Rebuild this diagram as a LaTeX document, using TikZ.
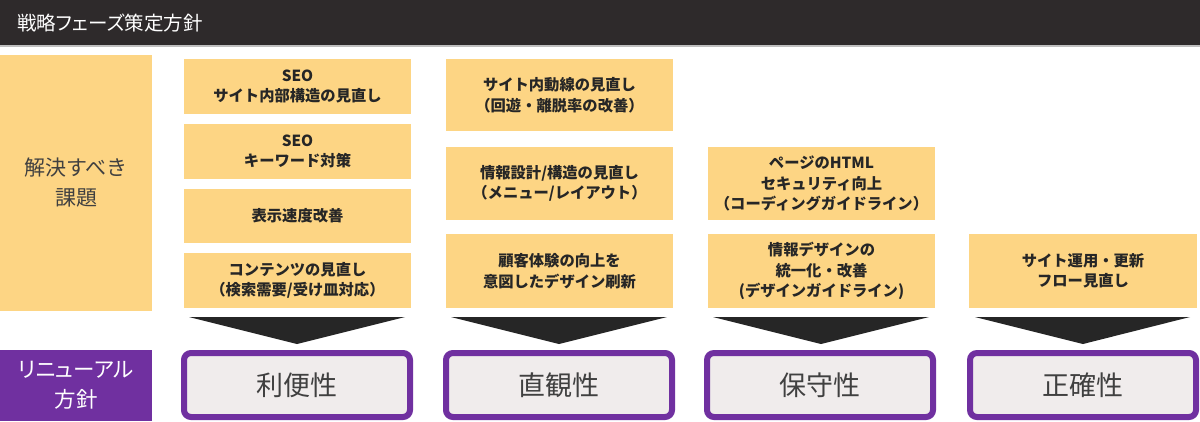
\documentclass[tikz,border=0pt]{standalone}
\usepackage{fontspec}
\setmainfont{Noto Sans CJK JP}
\newfontfamily\paltfont[RawFeature=+palt]{Noto Sans CJK JP}
\definecolor{hdr}{HTML}{2E2A2B}
\definecolor{yel}{HTML}{FDD584}
\definecolor{purp}{HTML}{7030A0}
\definecolor{lgray}{HTML}{F0ECEC}
\definecolor{txt}{HTML}{262626}
\definecolor{txtb}{HTML}{404040}
\definecolor{arr}{HTML}{262626}
\begin{document}
\begin{tikzpicture}[x=1pt,y=-1pt,
  ybox/.style={fill=yel, draw=none, inner sep=0pt, outer sep=0pt, align=center, anchor=north west,
    font=\bfseries\fontsize{15.3}{20.5}\selectfont, text=txt},
  pbox/.style={draw=purp, line width=6pt, fill=lgray, rounded corners=7pt, inner sep=0pt, outer sep=0pt,
    minimum width=226pt, minimum height=64pt, anchor=north west,
    font=\fontsize{27}{30}\selectfont, text=txtb},
  arrowshape/.style={fill=arr, draw=none}]
\useasboundingbox (0,0) rectangle (1200,421);
\fill[white] (0,0) rectangle (1200,421);
% header
\node[fill=hdr, draw=none, inner sep=0pt, outer sep=0pt, minimum width=1200pt, minimum height=45pt, anchor=north west] (hdr) at (0,0) {};
\draw[black!25, line width=1.2pt] (0,46) -- (1200,46);
\node[anchor=west, text=white, inner sep=0pt, font=\paltfont\fontsize{19.5}{22}\selectfont] (hdrt) at (17,23.5) {戦略フェーズ策定方針};
% left labels
\node[fill=yel, inner sep=0pt, outer sep=0pt, minimum width=152pt, minimum height=256pt, anchor=north west, align=center,
  text=txtb, font=\fontsize{21}{30}\selectfont] (kadai) at (0,55) {解決すべき\\課題};
\node[fill=purp, inner sep=0pt, outer sep=0pt, minimum width=152pt, minimum height=71pt, anchor=north west, align=center,
  text=white, font=\paltfont\fontsize{21.5}{30}\selectfont] (hoshin) at (0,350) {リニューアル\\方針};
% column 1
\node[ybox, minimum width=227pt, minimum height=55pt] (a1) at (184,59) {SEO\\サイト内部構造の見直し};
\node[ybox, minimum width=227pt, minimum height=55pt] (a2) at (184,124) {SEO\\キーワード対策};
\node[ybox, minimum width=227pt, minimum height=54pt] (a3) at (184,189) {表示速度改善};
\node[ybox, minimum width=227pt, minimum height=55pt] (a4) at (184,253) {コンテンツの見直し\\（検索需要/受け皿対応）};
% column 2
\node[ybox, minimum width=227pt, minimum height=72pt] (b1) at (446,59) {サイト内動線の見直し\\（回遊・離脱率の改善）};
\node[ybox, minimum width=227pt, minimum height=73pt] (b2) at (446,147) {情報設計/構造の見直し\\（メニュー/レイアウト）};
\node[ybox, minimum width=227pt, minimum height=74pt] (b3) at (446,234) {顧客体験の向上を\\意図したデザイン刷新};
% column 3
\node[ybox, minimum width=227pt, minimum height=73pt] (c1) at (708,147) {ページのHTML\\セキュリティ向上\\（コーディングガイドライン）};
\node[ybox, minimum width=227pt, minimum height=74pt] (c2) at (708,234) {情報デザインの\\統一化・改善\\(デザインガイドライン)};
% column 4
\node[ybox, minimum width=228pt, minimum height=74pt] (d1) at (969,234) {サイト運用・更新\\フロー見直し};
% arrows
\fill[arrowshape] (189,317) -- (405,317) -- (297,344) -- cycle;
\fill[arrowshape] (451,317) -- (667,317) -- (559,344) -- cycle;
\fill[arrowshape] (713,317) -- (929,317) -- (821,344) -- cycle;
\fill[arrowshape] (975,317) -- (1190,317) -- (1083,344) -- cycle;
% policy boxes
\node[pbox] (p1) at (184,353) {利便性};
\node[pbox] (p2) at (446,353) {直観性};
\node[pbox] (p3) at (707,353) {保守性};
\node[pbox] (p4) at (970,353) {正確性};
\end{tikzpicture}
\end{document}
